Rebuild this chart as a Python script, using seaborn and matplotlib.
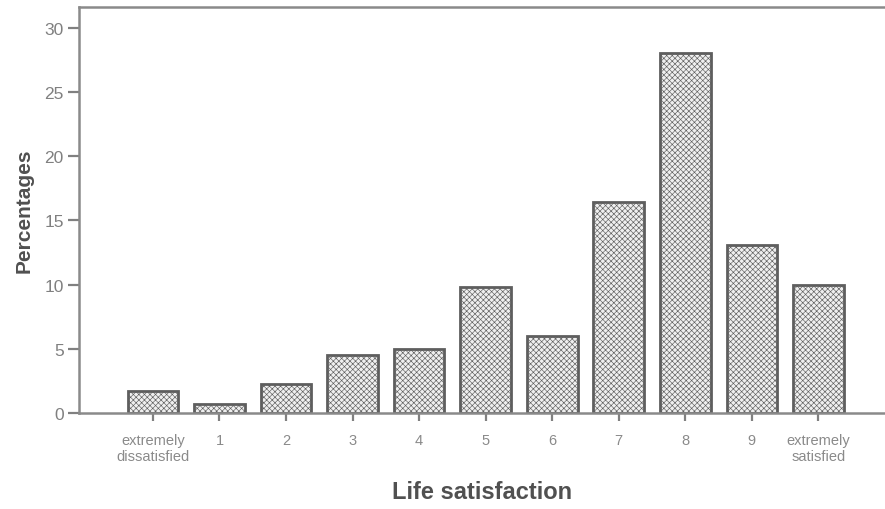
import matplotlib
matplotlib.use("Agg")
import matplotlib.pyplot as plt
import seaborn as sns
import pandas as pd

categories = ["extremely\ndissatisfied", "1", "2", "3", "4", "5", "6", "7", "8", "9", "extremely\nsatisfied"]
percentages = [1.7, 0.7, 2.3, 4.5, 5.0, 9.8, 6.0, 16.4, 28.0, 13.1, 10.0]
y_ticks = [0, 5, 10, 15, 20, 25, 30]

sns.set_theme(style="white")
plt.rcParams['font.family'] = ['Liberation Sans', 'DejaVu Sans']
plt.rcParams['hatch.color'] = '#cdcdcd'
plt.rcParams['hatch.linewidth'] = 0.45

df = pd.DataFrame({"cat": categories, "pct": percentages})

fig = plt.figure(figsize=(8.85, 5.1), dpi=100)
ax = fig.add_axes([0.0893, 0.188, 0.9107, 0.796])

sns.barplot(data=df, x="cat", y="pct", order=categories, color="#efefef",
            width=0.76, ax=ax, saturation=1)
for p in ax.patches:
    p.set_edgecolor("#5e5e5e")
    p.set_linewidth(2.0)
    p.set_hatch("xxxxxx")

ax.set_ylim(0, 31.6)
ax.set_xlim(-1.11, 11.0)
ax.set_yticks(y_ticks)
ax.set_yticklabels([str(v) for v in y_ticks], fontsize=12.5, color="#808080")
ax.set_xticks(range(len(categories)))
ax.set_xticklabels(categories, fontsize=10.5, color="#8a8a8a", linespacing=1.25)
ax.tick_params(axis="y", direction="out", length=8, width=1.6, color="#808080", pad=3, left=True)
ax.tick_params(axis="x", direction="out", length=6, width=1.6, color="#808080", pad=8, bottom=True)

for s in ["left", "bottom", "top"]:
    ax.spines[s].set_color("#8a8a8a")
    ax.spines[s].set_linewidth(1.8)
ax.spines["right"].set_visible(False)

ax.set_ylabel("Percentages", fontsize=15, fontweight="bold", color="#505050", labelpad=8)
ax.set_xlabel("Life satisfaction", fontsize=17, fontweight="bold", color="#505050", labelpad=12)

fig.savefig("out.png", dpi=100)
